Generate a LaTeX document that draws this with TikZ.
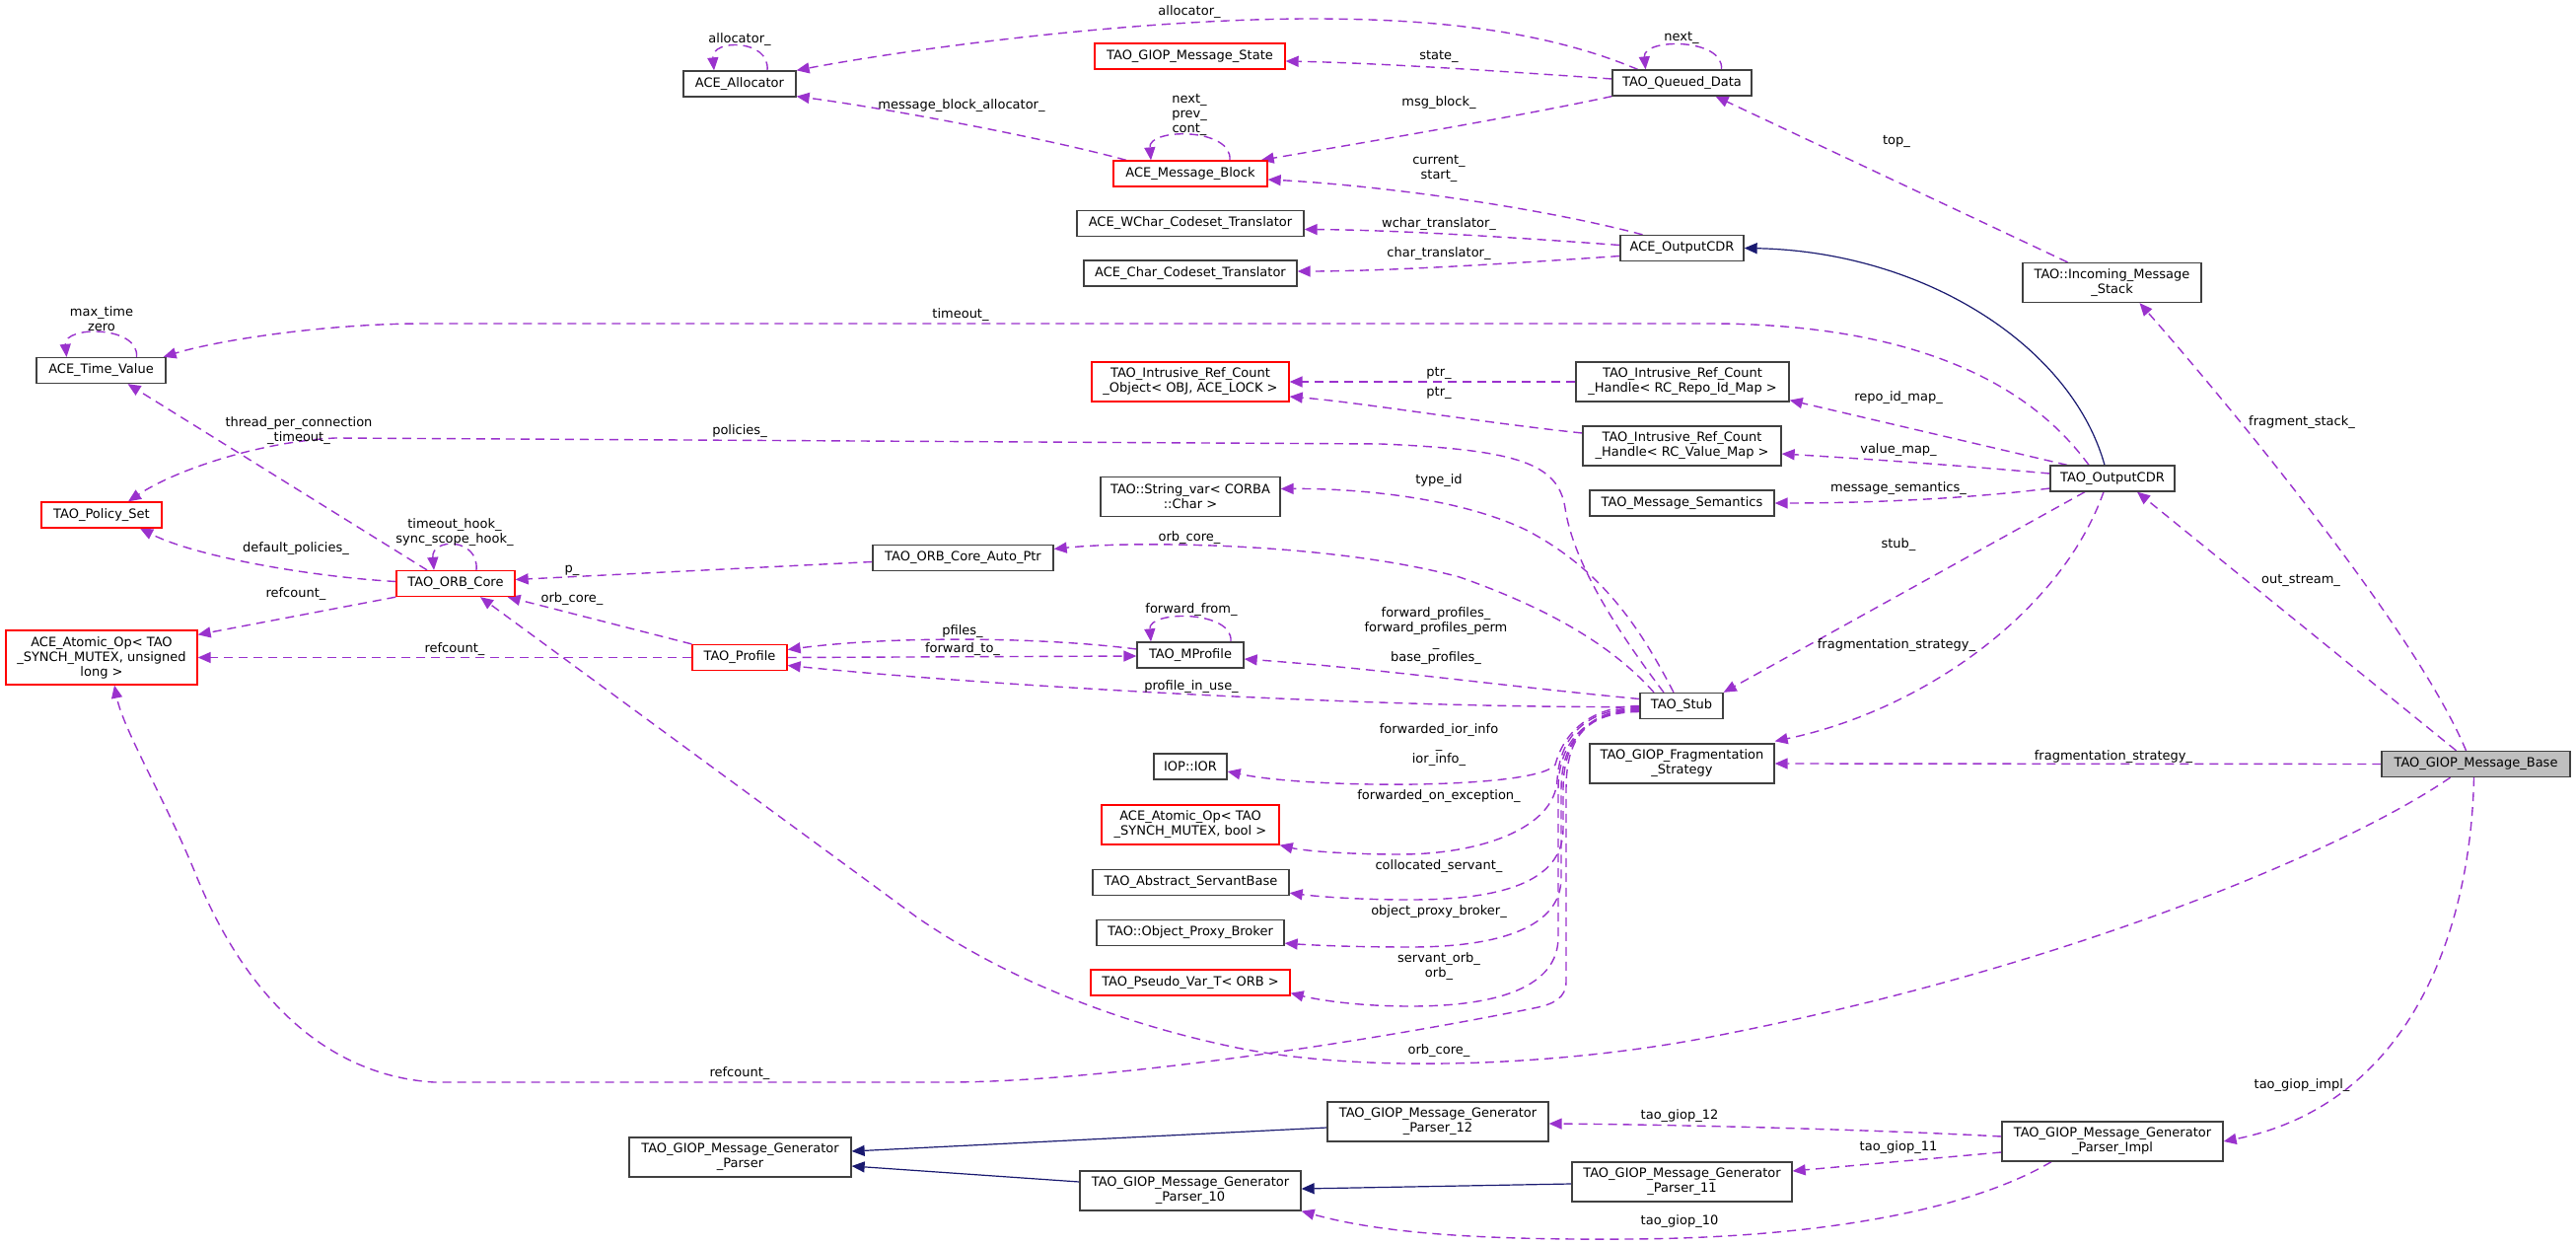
\documentclass[tikz,border=0pt]{standalone}
\usepackage{fontspec}
\setmainfont{DejaVu Sans}
\usetikzlibrary{arrows.meta}
\definecolor{edgepurple}{HTML}{9A32CD}
\definecolor{edgenavy}{HTML}{191970}
\definecolor{boxgray}{HTML}{404040}
\definecolor{basefill}{HTML}{BFBFBF}
\pgfdeclarelayer{background}
\pgfsetlayers{background,main}
\tikzset{
  cls/.style={draw=boxgray, line width=0.65pt, fill=white, minimum height=13pt,
    inner xsep=2pt, inner ysep=1.5pt, align=center},
  cls2/.style={cls, minimum height=20pt},
  cls3/.style={cls, minimum height=27.5pt},
  trunc/.style={draw=red},
  dep/.style={draw=edgepurple, line width=0.7pt, dash pattern=on 4.5pt off 3pt,
    -{Triangle[length=6.5pt,width=5.5pt]}},
  inh/.style={draw=edgenavy, line width=0.6pt, -{Triangle[length=6.5pt,width=5.5pt]}},
  lbl/.style={inner sep=0pt, align=center}
}
\begin{document}
\begin{tikzpicture}[x=0.5pt, y=-0.5pt, font=\fontsize{6.5pt}{7.5pt}\selectfont]
\useasboundingbox (0,0) rectangle (2612,1262);
% ---------- nodes ----------
\node[cls, minimum width=57pt] (alloc) at (750,85) {ACE\_Allocator};
\node[cls, trunc, minimum width=96.5pt] (msgstate) at (1206.5,57) {TAO\_GIOP\_Message\_State};
\node[cls, minimum width=70.5pt] (queued) at (1705.5,84) {TAO\_Queued\_Data};
\node[cls, trunc, minimum width=78pt] (msgblock) at (1207,176) {ACE\_Message\_Block};
\node[cls, minimum width=115pt] (wchar) at (1207,226.5) {ACE\_WChar\_Codeset\_Translator};
\node[cls, minimum width=62.5pt] (aceout) at (1705.5,251.5) {ACE\_OutputCDR};
\node[cls, minimum width=108pt] (char) at (1207,277) {ACE\_Char\_Codeset\_Translator};
\node[cls, minimum width=65.5pt] (timeval) at (102.5,375.5) {ACE\_Time\_Value};
\node[cls2, trunc, minimum width=100pt] (refobj) at (1207,387) {TAO\_Intrusive\_Ref\_Count\\\_Object< OBJ, ACE\_LOCK >};
\node[cls2, minimum width=108pt] (repoh) at (1706,387) {TAO\_Intrusive\_Ref\_Count\\\_Handle< RC\_Repo\_Id\_Map >};
\node[cls2, minimum width=90.5pt] (incoming) at (2141.5,286.5) {TAO::Incoming\_Message\\\_Stack};
\node[cls2, minimum width=100.5pt] (valueh) at (1705.5,452) {TAO\_Intrusive\_Ref\_Count\\\_Handle< RC\_Value\_Map >};
\node[cls2, minimum width=91pt] (stringvar) at (1207,503.5) {TAO::String\_var< CORBA\\::Char >};
\node[cls, minimum width=93.5pt] (msgsem) at (1705.5,510) {TAO\_Message\_Semantics};
\node[cls, minimum width=63pt] (taoout) at (2142,485) {TAO\_OutputCDR};
\node[cls, trunc, minimum width=61pt] (policy) at (103,522) {TAO\_Policy\_Set};
\node[cls, trunc, minimum width=60pt] (orbcore) at (462,591.5) {TAO\_ORB\_Core};
\node[cls, minimum width=91.5pt] (autoptr) at (976.5,565.5) {TAO\_ORB\_Core\_Auto\_Ptr};
\node[cls3, trunc, minimum width=97pt] (atomul) at (103,666.5) {ACE\_Atomic\_Op< TAO\\\_SYNCH\_MUTEX, unsigned\\long >};
\node[cls, trunc, minimum width=48pt] (profile) at (750,666.5) {TAO\_Profile};
\node[cls, minimum width=54pt] (mprofile) at (1207,664) {TAO\_MProfile};
\node[cls, minimum width=42pt] (stub) at (1705,715.5) {TAO\_Stub};
\node[cls, minimum width=37pt] (ior) at (1207,777) {IOP::IOR};
\node[cls2, minimum width=93.5pt] (frag) at (1705.5,774) {TAO\_GIOP\_Fragmentation\\\_Strategy};
\node[cls, fill=basefill, minimum width=95.5pt] (base) at (2510.5,774.5) {TAO\_GIOP\_Message\_Base};
\node[cls2, trunc, minimum width=90pt] (atombool) at (1207,836) {ACE\_Atomic\_Op< TAO\\\_SYNCH\_MUTEX, bool >};
\node[cls, minimum width=99.5pt] (servant) at (1207.5,894.5) {TAO\_Abstract\_ServantBase};
\node[cls, minimum width=95pt] (proxy) at (1207,945.5) {TAO::Object\_Proxy\_Broker};
\node[cls, trunc, minimum width=101pt] (pseudo) at (1207,996) {TAO\_Pseudo\_Var\_T< ORB >};
\node[cls2, minimum width=112.5pt] (genparser) at (750.5,1173) {TAO\_GIOP\_Message\_Generator\\\_Parser};
\node[cls2, minimum width=112pt] (p12) at (1458,1137) {TAO\_GIOP\_Message\_Generator\\\_Parser\_12};
\node[cls2, minimum width=112pt] (p10) at (1207,1207) {TAO\_GIOP\_Message\_Generator\\\_Parser\_10};
\node[cls2, minimum width=111.5pt] (p11) at (1705.5,1198) {TAO\_GIOP\_Message\_Generator\\\_Parser\_11};
\node[cls2, minimum width=112pt] (impl) at (2142,1157) {TAO\_GIOP\_Message\_Generator\\\_Parser\_Impl};
% ---------- edges ----------
\begin{pgfonlayer}{background}
\fill[white] (0,0) rectangle (2612,1262);
% self loops
\draw[dep] ([shift={(28,0)}]alloc.north) .. controls +(3,-32) and +(-3,-32) .. ([shift={(-26,0)}]alloc.north);
\draw[dep] ([shift={(40,0)}]queued.north) .. controls +(3,-32) and +(-3,-32) .. ([shift={(-37,0)}]queued.north);
\draw[dep] ([shift={(40,0)}]msgblock.north) .. controls +(3,-33) and +(-3,-33) .. ([shift={(-40,0)}]msgblock.north);
\draw[dep] ([shift={(41,0)}]mprofile.north) .. controls +(3,-32) and +(-3,-32) .. ([shift={(-40,0)}]mprofile.north);
\draw[dep] ([shift={(21,0)}]orbcore.north) .. controls +(3,-33) and +(-3,-33) .. ([shift={(-22,0)}]orbcore.north);
\draw[dep] ([shift={(36,0)}]timeval.north) .. controls +(3,-32) and +(-3,-32) .. ([shift={(-35,0)}]timeval.north);
% top area
\draw[dep] ([shift={(-45,0)}]queued.north) .. controls (1560,28) and (1440,19) .. (1330,19) .. controls (1150,19) and (920,50) .. (alloc.north east);
\draw[dep] ([shift={(0,-4)}]queued.west) .. controls (1520,72) and (1400,64) .. ([shift={(0,5)}]msgstate.east);
\draw[dep] (queued.south west) .. controls (1540,118) and (1380,145) .. ([shift={(-7,0)}]msgblock.north east);
\draw[dep] ([shift={(-65,0)}]msgblock.north) .. controls (1060,140) and (900,110) .. ([shift={(0,-1)}]alloc.south east);
\draw[dep] ([shift={(-40,0)}]aceout.north) .. controls (1560,210) and (1400,188) .. ([shift={(0,6)}]msgblock.east);
\draw[dep] ([shift={(0,-3)}]aceout.west) .. controls (1500,238) and (1400,233) .. ([shift={(0,6)}]wchar.east);
\draw[dep] ([shift={(0,8)}]aceout.west) .. controls (1520,268) and (1400,275) .. ([shift={(0,-2)}]char.east);
\draw[inh] ([shift={(-8,0)}]taoout.north) .. controls (2100,350) and (1950,255) .. (aceout.east);
\draw[dep] ([shift={(-24,0)}]taoout.north) .. controls (2080,420) and (1990,330) .. (1740,328) -- (430,328) .. controls (330,328) and (220,345) .. ([shift={(-3,0)}]timeval.north east);
\draw[dep] ([shift={(-46,0)}]taoout.north) -- ([shift={(0,-2)}]repoh.south east);
\draw[dep] ([shift={(0,-5)}]taoout.west) .. controls (1990,472) and (1890,465) .. ([shift={(0,8)}]valueh.east);
\draw[dep] ([shift={(0,10)}]taoout.west) .. controls (2000,505) and (1900,510) .. (msgsem.east);
\draw[dep] ([shift={(-28,0)}]taoout.south) -- (stub.north east);
\draw[dep] ([shift={(-9,0)}]taoout.south) .. controls (2090,620) and (1950,720) .. ([shift={(0,-2)}]frag.north east);
\draw[dep] ([shift={(-20,0)}]base.north) -- ([shift={(25,0)}]taoout.south);
\draw[dep] ([shift={(-10,0)}]base.north) .. controls (2450,640) and (2260,410) .. ([shift={(28,0)}]incoming.south);
\draw[dep] ([shift={(-45,0)}]incoming.north) -- ([shift={(34,0)}]queued.south);
\draw[dep] (base.west) -- (frag.east);
\draw[dep] ([shift={(-2,0)}]base.south) .. controls (2505,950) and (2440,1120) .. (impl.east);
\draw[dep] ([shift={(-26,0)}]base.south) .. controls (2380,860) and (2100,980) .. (1740,1050) .. controls (1600,1078) and (1400,1090) .. (1259,1063) .. controls (1120,1035) and (1010,985) .. (930,930) -- ([shift={(25,0)}]orbcore.south);
\draw[dep] (repoh.west) -- (refobj.east);
\draw[dep] ([shift={(0,-13)}]valueh.west) .. controls (1500,428) and (1380,408) .. ([shift={(0,15)}]refobj.east);
% left area
\draw[dep] (orbcore.south west) -- ([shift={(0,5)}]atomul.north east);
\draw[dep] (profile.west) -- (atomul.east);
\draw[dep] (profile.north west) -- ([shift={(-8,0)}]orbcore.south east);
\draw[dep] ([shift={(0,4)}]autoptr.west) -- ([shift={(0,-4)}]orbcore.east);
\draw[dep] ([shift={(-29,0)}]orbcore.north) -- ([shift={(27,0)}]timeval.south);
\draw[dep] ([shift={(0,-2)}]orbcore.west) .. controls (320,585) and (200,565) .. ([shift={(39,0)}]policy.south);
\draw[dep] ([shift={(0,-6)}]mprofile.west) .. controls (1050,645) and (900,645) .. ([shift={(0,-8)}]profile.east);
\draw[dep] (profile.east) -- ([shift={(0,1)}]mprofile.west);
% TAO_Stub edges
\draw[dep] ([shift={(-18,0)}]stub.north) .. controls (1640,640) and (1595,570) .. (1587,515) .. controls (1580,470) and (1540,456) .. (1400,450) -- (340,444) .. controls (260,448) and (175,478) .. ([shift={(27,0)}]policy.north);
\draw[dep] ([shift={(-8,0)}]stub.north) .. controls (1660,630) and (1620,575) .. (1547,537) .. controls (1480,505) and (1380,495) .. ([shift={(0,-8)}]stringvar.east);
\draw[dep] ([shift={(-28,0)}]stub.north) .. controls (1640,660) and (1580,620) .. (1480,585) .. controls (1350,550) and (1150,548) .. ([shift={(0,-9)}]autoptr.east);
\draw[dep] ([shift={(0,-7)}]stub.west) .. controls (1520,695) and (1400,678) .. ([shift={(0,4)}]mprofile.east);
\draw[dep] ([shift={(0,1)}]stub.west) .. controls (1400,718) and (1000,695) .. ([shift={(0,8)}]profile.east);
\draw[dep] (stub.west) .. controls (1610,716) and (1585,745) .. (1577,775) .. controls (1560,800) and (1330,800) .. ([shift={(0,5)}]ior.east);
\draw[dep] ([shift={(0,2)}]stub.west) .. controls (1610,718) and (1582,745) .. (1579,790) .. controls (1577,840) and (1500,866) .. (1420,866) .. controls (1360,866) and (1320,862) .. (atombool.south east);
\draw[dep] ([shift={(0,3)}]stub.west) .. controls (1610,719) and (1585,750) .. (1585,800) -- (1585,840) .. controls (1585,895) and (1520,912) .. (1430,912) .. controls (1370,912) and (1330,908) .. ([shift={(0,-3)}]servant.south east);
\draw[dep] ([shift={(0,4)}]stub.west) .. controls (1610,720) and (1583,750) .. (1583,800) -- (1583,890) .. controls (1583,940) and (1520,960) .. (1430,960) .. controls (1370,960) and (1330,958) .. ([shift={(0,-3)}]proxy.south east);
\draw[dep] ([shift={(0,5)}]stub.west) .. controls (1610,721) and (1580,750) .. (1580,800) -- (1580,950) .. controls (1580,1000) and (1520,1020) .. (1430,1020) .. controls (1370,1020) and (1330,1012) .. ([shift={(0,-3)}]pseudo.south east);
\draw[dep] ([shift={(0,6)}]stub.west) .. controls (1610,722) and (1588,745) .. (1588,800) -- (1588,995) .. controls (1588,1012) and (1575,1018) .. (1555,1022) .. controls (1350,1063) and (1100,1097) .. (960,1097) -- (440,1097) .. controls (330,1090) and (250,1010) .. (200,890) .. controls (170,815) and (125,740) .. ([shift={(13,0)}]atomul.south);
% bottom area
\draw[inh] ([shift={(0,6)}]p12.west) -- ([shift={(0,-6)}]genparser.east);
\draw[inh] ([shift={(0,-9)}]p10.west) -- ([shift={(0,9)}]genparser.east);
\draw[inh] ([shift={(0,2)}]p11.west) -- ([shift={(0,-2)}]p10.east);
\draw[dep] ([shift={(0,-5)}]impl.west) .. controls (1900,1145) and (1700,1140) .. ([shift={(0,2)}]p12.east);
\draw[dep] ([shift={(0,11)}]impl.west) -- ([shift={(0,-11)}]p11.east);
\draw[dep] ([shift={(-62,0)}]impl.south) .. controls (2000,1225) and (1850,1255) .. (1650,1256) .. controls (1500,1257) and (1400,1250) .. (p10.south east);
\end{pgfonlayer}
% ---------- labels ----------
\node[lbl] (l1) at (750,40) {allocator\_};
\node[lbl] (l2) at (1206,12) {allocator\_};
\node[lbl] (l3) at (1459,57) {state\_};
\node[lbl] (l4) at (1705,38) {next\_};
\node[lbl] (l5) at (975,107) {message\_block\_allocator\_};
\node[lbl] (l6) at (1206,116) {next\_\\prev\_\\cont\_};
\node[lbl] (l7) at (1459,104) {msg\_block\_};
\node[lbl] (l8) at (1459,171) {current\_\\start\_};
\node[lbl] (l9) at (1459,227) {wchar\_translator\_};
\node[lbl] (l10) at (1459,257) {char\_translator\_};
\node[lbl] (l11) at (1923,143) {top\_};
\node[lbl] (l12) at (103,323) {max\_time\\zero};
\node[lbl] (l13) at (974,319) {timeout\_};
\node[lbl] (l14) at (1459,378) {ptr\_};
\node[lbl] (l15) at (1459,398) {ptr\_};
\node[lbl] (l16) at (1925,403) {repo\_id\_map\_};
\node[lbl] (l17) at (303,437) {thread\_per\_connection\\\_timeout\_};
\node[lbl] (l18) at (750,437) {policies\_};
\node[lbl] (l19) at (2334,428) {fragment\_stack\_};
\node[lbl] (l20) at (1925,456) {value\_map\_};
\node[lbl] (l21) at (1459,487) {type\_id};
\node[lbl] (l22) at (1925,495) {message\_semantics\_};
\node[lbl] (l23) at (461,540) {timeout\_hook\_\\sync\_scope\_hook\_};
\node[lbl] (l24) at (1206,545) {orb\_core\_};
\node[lbl] (l25) at (300,556) {default\_policies\_};
\node[lbl] (l26) at (1925,552) {stub\_};
\node[lbl] (l27) at (580,578) {p\_};
\node[lbl] (l28) at (2333,588) {out\_stream\_};
\node[lbl] (l29) at (300,602) {refcount\_};
\node[lbl] (l30) at (580,607) {orb\_core\_};
\node[lbl] (l31) at (1208,618) {forward\_from\_};
\node[lbl] (l32) at (1456,645) {forward\_profiles\_\\forward\_profiles\_perm\\\_\\base\_profiles\_};
\node[lbl] (l33) at (976,640) {pfiles\_};
\node[lbl] (l34) at (1923,654) {fragmentation\_strategy\_};
\node[lbl] (l35) at (976,658) {forward\_to\_};
\node[lbl] (l36) at (461,658) {refcount\_};
\node[lbl] (l37) at (1208,696) {profile\_in\_use\_};
\node[lbl] (l38) at (1459,755) {forwarded\_ior\_info\\\_\\ior\_info\_};
\node[lbl] (l39) at (2143,767) {fragmentation\_strategy\_};
\node[lbl] (l40) at (1459,807) {forwarded\_on\_exception\_};
\node[lbl] (l41) at (1459,878) {collocated\_servant\_};
\node[lbl] (l42) at (1459,924) {object\_proxy\_broker\_};
\node[lbl] (l43) at (1459,980) {servant\_orb\_\\orb\_};
\node[lbl] (l44) at (1459,1065) {orb\_core\_};
\node[lbl] (l45) at (750,1088) {refcount\_};
\node[lbl] (l46) at (2334,1100) {tao\_giop\_impl\_};
\node[lbl] (l47) at (1703,1131) {tao\_giop\_12};
\node[lbl] (l48) at (1925,1163) {tao\_giop\_11};
\node[lbl] (l49) at (1703,1238) {tao\_giop\_10};
\end{tikzpicture}
\end{document}
